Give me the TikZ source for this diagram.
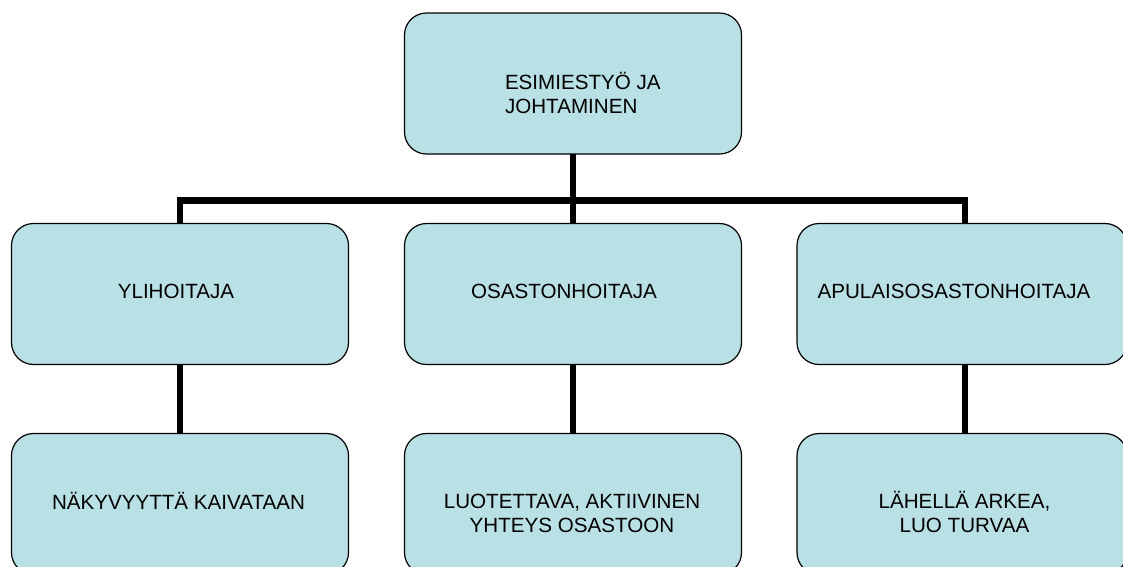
\documentclass[tikz,border=0pt]{standalone}
\usepackage{fontspec}
\setmainfont{Liberation Sans}
\definecolor{boxfill}{RGB}{185,224,228}
\begin{document}
\begin{tikzpicture}[x=1pt,y=-1pt,
  box/.style={draw=black, line width=1.2pt, fill=boxfill, rounded corners=22pt,
    minimum height=141pt, inner sep=0pt, outer sep=0pt},
  wide/.style={box, minimum width=337pt},
  lbl/.style={font=\fontsize{20.6}{23.5}\selectfont, inner sep=0pt, outer sep=0pt},
  link/.style={draw=black, line width=6.5pt, line cap=butt, line join=miter}]
\useasboundingbox (0,0) rectangle (1123,566);
\clip (0,0) rectangle (1123,566);

% bus line between the two levels
\coordinate (busL) at (180,200.5);
\coordinate (busR) at (965,200.5);

% boxes
\node[wide] (top) at (573,83.5) {};
\node[wide] (ml) at (180,294) {};
\node[wide] (mc) at (573,294) {};
\node[box, minimum width=330pt] (mr) at (962,294) {};
\node[wide] (bl) at (180,504) {};
\node[wide] (bc) at (573,504) {};
\node[box, minimum width=330pt] (br) at (962,504) {};

% connectors
\draw[link] (top.south) -- (mc.north);
\draw[link] (busL |- ml.north) -- (busL) -- (busR) -- (busR |- mr.north);
\draw[link] (ml.south) -- (ml.south |- bl.north);
\draw[link] (mc.south) -- (mc.south |- bc.north);
\draw[link] (busR |- mr.south) -- (busR |- br.north);

% texts (multi-line nodes sit on the baseline of their last line)
\node[lbl, anchor=base west, align=left] (t0) at (505,113) {ESIMIESTYÖ JA\\JOHTAMINEN};
\node[lbl, anchor=base] (t1) at (176,298) {YLIHOITAJA};
\node[lbl, anchor=base] (t2) at (564,298) {OSASTONHOITAJA};
\node[lbl, anchor=base] (t3) at (954,298) {APULAISOSASTONHOITAJA};
\node[lbl, anchor=base] (t4) at (178.5,509) {NÄKYVYYTTÄ KAIVATAAN};
\node[lbl, anchor=base, align=center] (t5) at (572,532) {LUOTETTAVA, AKTIIVINEN\\YHTEYS OSASTOON};
\node[lbl, anchor=base, align=center] (t6) at (964.5,532) {LÄHELLÄ ARKEA,\\LUO TURVAA};
\end{tikzpicture}
\end{document}
